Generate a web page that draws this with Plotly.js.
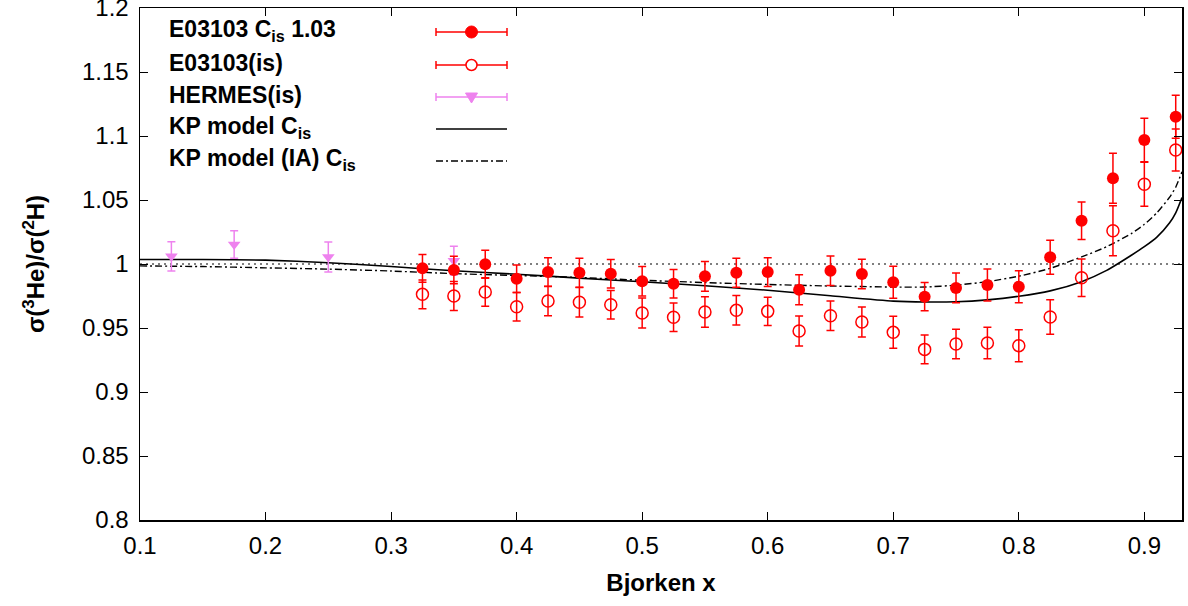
<!DOCTYPE html>
<html>
<head>
<meta charset="utf-8">
<script src="https://cdn.plot.ly/plotly-3.0.1.min.js"></script>
<style>html,body{margin:0;padding:0;background:#fff;}#chart{width:1188px;height:606px;}</style>
</head>
<body>
<div id="chart"></div>
<script>
// ---- data ----
const xE = [0.325,0.35,0.375,0.4,0.425,0.45,0.475,0.5,0.525,0.55,0.575,0.6,0.625,0.65,0.675,0.7,0.725,0.75,0.775,0.8,0.825,0.85,0.875,0.9,0.925];
const yCis = [0.9966,0.9953,0.9998,0.9885,0.9937,0.9932,0.9924,0.9865,0.9846,0.9904,0.9932,0.9937,0.9799,0.9948,0.9922,0.9857,0.9745,0.9813,0.9836,0.9823,1.0052,1.0338,1.0670,1.0969,1.1151];
const eCis = [0.0108,0.0108,0.0110,0.0107,0.0112,0.0113,0.0112,0.0115,0.0111,0.0116,0.0113,0.0112,0.0117,0.0115,0.0115,0.0125,0.0111,0.0116,0.0125,0.0125,0.0133,0.0146,0.0195,0.0170,0.0168];
const yIs = [0.9763,0.9750,0.9781,0.9666,0.9711,0.9701,0.9682,0.9617,0.9584,0.9625,0.9638,0.9630,0.9477,0.9596,0.9547,0.9466,0.9333,0.9375,0.9383,0.9362,0.9586,0.9893,1.0260,1.0623,1.0890];
const eIs = [0.0112,0.0113,0.0112,0.0111,0.0115,0.0116,0.0111,0.0117,0.0111,0.0120,0.0115,0.0111,0.0117,0.0115,0.0117,0.0125,0.0112,0.0115,0.0123,0.0125,0.0135,0.0147,0.0195,0.0172,0.0164];
const xH = [0.125,0.175,0.25,0.35];
const yH = [1.0060,1.0152,1.0055,1.0026];
const eH = [0.0114,0.0108,0.0117,0.0112];
const xKP = [0.1,0.15,0.2,0.25,0.3,0.35,0.4,0.45,0.5,0.55,0.6,0.65,0.7,0.725,0.75,0.775,0.8,0.825,0.85,0.87,0.89,0.9,0.91,0.92,0.925,0.93];
const yKP = [1.0035,1.0035,1.0030,1.0010,0.9980,0.9947,0.9920,0.9890,0.9861,0.9830,0.9795,0.9752,0.9710,0.9703,0.9705,0.9720,0.9748,0.9790,0.9862,0.9950,1.0070,1.0135,1.0210,1.0320,1.0400,1.0520];
const yKPIA = [0.9985,0.9980,0.9970,0.9960,0.9945,0.9925,0.9910,0.9895,0.9873,0.9855,0.9840,0.9828,0.9820,0.9820,0.9835,0.9862,0.9905,0.9966,1.0055,1.0135,1.0240,1.0310,1.0400,1.0520,1.0600,1.0720];
const legendLabels = ['E03103 C<sub>is</sub> 1.03','E03103(is)','HERMES(is)','KP model C<sub>is</sub>','KP model (IA) C<sub>is</sub>'];
const xTicks = [0.1,0.2,0.3,0.4,0.5,0.6,0.7,0.8,0.9];
const yTicks = [0.8,0.85,0.9,0.95,1,1.05,1.1,1.15,1.2];

// ---- styles ----
const RED = '#ff0000', VIO = '#ee82ee';
const FONT = 'Liberation Sans, Arial, Helvetica, sans-serif';
const DASHDOT = '7px,3px,2px,3px';

const traces = [
  {x: xKP, y: yKP, mode: 'lines', line: {color: '#000', width: 1.6, shape: 'spline', smoothing: 0.6}, showlegend: false, hoverinfo: 'skip'},
  {x: xKP, y: yKPIA, mode: 'lines', line: {color: '#000', width: 1.4, dash: DASHDOT, shape: 'spline', smoothing: 0.6}, showlegend: false, hoverinfo: 'skip'},
  {x: xH, y: yH, mode: 'markers', marker: {symbol: 'triangle-down', size: 11, color: VIO},
   error_y: {type: 'data', array: eH, color: VIO, thickness: 1.5, width: 4}, showlegend: false},
  {x: xE, y: yIs, mode: 'markers', marker: {symbol: 'circle-open', size: 12, color: RED, line: {width: 1.5}},
   error_y: {type: 'data', array: eIs, color: RED, thickness: 1.5, width: 4}, showlegend: false},
  {x: xE, y: yCis, mode: 'markers', marker: {symbol: 'circle', size: 12, color: RED},
   error_y: {type: 'data', array: eCis, color: RED, thickness: 1.5, width: 4}, showlegend: false}
];

// custom gnuplot-style legend (text left, sample right)
const L = 140, T = 8, W = 1042, H = 512;
const px = v => (v - L) / W;
const py = v => (T + H - v) / H;
const rowY = [32, 65, 97, 129, 161];
const sx0 = px(436), sx1 = px(507), sxm = px(471.5);
const shapes = [
  {type: 'line', xref: 'paper', yref: 'y', x0: 0, x1: 1, y0: 1, y1: 1, line: {color: '#555', width: 1.4, dash: '2px,4px'}, layer: 'below'}
];
const annotations = [];
const rowColors = [RED, RED, VIO, '#000', '#000'];
rowY.forEach((ry, i) => {
  annotations.push({xref: 'paper', yref: 'paper', x: px(167), y: py(ry - 2), xanchor: 'left', yanchor: 'middle',
    text: '<b>' + legendLabels[i] + '</b>', showarrow: false, font: {family: FONT, size: 23, color: '#000'}});
  const c = rowColors[i];
  const base = {xref: 'paper', yref: 'paper'};
  if (i < 3) {
    shapes.push(Object.assign({type: 'line', x0: sx0, x1: sx1, y0: py(ry), y1: py(ry), line: {color: c, width: 1.5}}, base));
    shapes.push(Object.assign({type: 'line', x0: sx0, x1: sx0, y0: py(ry - 4), y1: py(ry + 4), line: {color: c, width: 1.5}}, base));
    shapes.push(Object.assign({type: 'line', x0: sx1, x1: sx1, y0: py(ry - 4), y1: py(ry + 4), line: {color: c, width: 1.5}}, base));
  }
  if (i === 0) {
    shapes.push({type: 'circle', xref: 'paper', yref: 'paper', xsizemode: 'pixel', ysizemode: 'pixel', xanchor: sxm, yanchor: py(ry),
      x0: -6, x1: 6, y0: -6, y1: 6, fillcolor: RED, line: {color: RED, width: 1}});
  } else if (i === 1) {
    shapes.push({type: 'circle', xref: 'paper', yref: 'paper', xsizemode: 'pixel', ysizemode: 'pixel', xanchor: sxm, yanchor: py(ry),
      x0: -5.5, x1: 5.5, y0: -5.5, y1: 5.5, fillcolor: '#fff', line: {color: RED, width: 1.5}});
  } else if (i === 2) {
    shapes.push({type: 'path', xref: 'paper', yref: 'paper', xsizemode: 'pixel', ysizemode: 'pixel', xanchor: sxm, yanchor: py(ry),
      path: 'M -6 4 L 6 4 L 0 -6 Z', fillcolor: VIO, line: {color: VIO, width: 1}});
  } else if (i === 3) {
    shapes.push(Object.assign({type: 'line', x0: sx0, x1: sx1, y0: py(ry), y1: py(ry), line: {color: '#000', width: 1.6}}, base));
  } else {
    shapes.push(Object.assign({type: 'line', x0: sx0, x1: sx1, y0: py(ry), y1: py(ry), line: {color: '#000', width: 1.4, dash: DASHDOT}}, base));
  }
});

const axisCommon = {
  showgrid: false, zeroline: false, showline: true, linecolor: '#000', linewidth: 1.5, mirror: 'allticks',
  ticks: 'inside', ticklen: 8, tickwidth: 1, tickcolor: '#000', ticklabeloverflow: 'allow',
  tickfont: {family: FONT, size: 24, color: '#000'}
};

const layout = {
  width: 1188, height: 606,
  margin: {l: L, r: 1188 - L - W, t: T, b: 606 - T - H},
  paper_bgcolor: '#fff', plot_bgcolor: '#fff',
  showlegend: false,
  xaxis: Object.assign({}, axisCommon, {range: [0.1, 0.93], tickvals: xTicks, ticktext: xTicks.map(String), ticklabelstandoff: 4,
    title: {text: '<b>Bjorken x</b>', font: {family: FONT, size: 24, color: '#000'}, standoff: 16}}),
  yaxis: Object.assign({}, axisCommon, {range: [0.8, 1.2], tickvals: yTicks, ticktext: yTicks.map(String), ticklabelstandoff: 5,
    title: {text: '<b>σ(<sup>3</sup>He)/σ(<sup>2</sup>H)</b>', font: {family: FONT, size: 24, color: '#000'}, standoff: 30}}),
  shapes: shapes,
  annotations: annotations
};

Plotly.newPlot('chart', traces, layout, {staticPlot: true, displayModeBar: false});
</script>
</body>
</html>
